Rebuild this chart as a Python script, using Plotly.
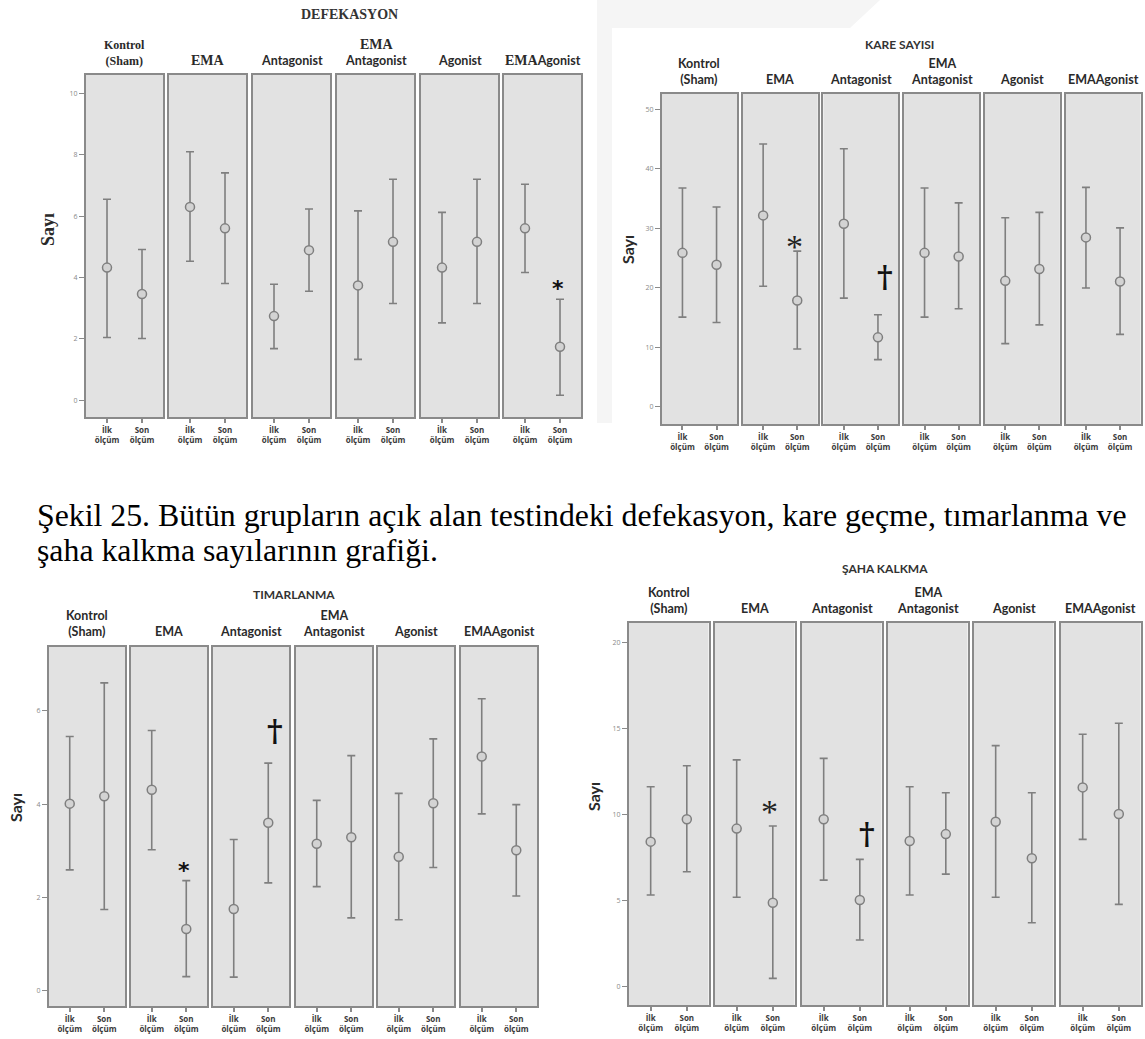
import plotly.graph_objects as go

W, H = 1145, 1039

# ---------------- data ----------------
groups = ["Kontrol<br>(Sham)", "EMA", "Antagonist", "EMA<br>Antagonist", "Agonist", "EMAAgonist"]
olcum = ["İlk<br>ölçüm", "Son<br>ölçüm"]

# DEFEKASYON  (per group: [İlk, Son])
defek_mean  = [[4.32, 3.46], [6.30, 5.60], [2.74, 4.89], [3.74, 5.16], [4.32, 5.16], [5.60, 1.74]]
defek_upper = [[6.55, 4.91], [8.10, 7.41], [3.78, 6.23], [6.17, 7.20], [6.12, 7.20], [7.04, 3.29]]
defek_lower = [[2.04, 2.01], [4.53, 3.80], [1.68, 3.55], [1.33, 3.15], [2.52, 3.15], [4.16, 0.16]]

# KARE SAYISI
kare_mean  = [[25.9, 23.9], [32.2, 17.9], [30.8, 11.7], [25.9, 25.3], [21.2, 23.2], [28.5, 21.1]]
kare_upper = [[36.8, 33.6], [44.2, 26.2], [43.4, 15.5], [36.8, 34.3], [31.8, 32.7], [36.9, 30.1]]
kare_lower = [[15.1, 14.2], [20.3, 9.75], [18.3, 7.96], [15.1, 16.5], [10.65, 13.8], [20.0, 12.2]]

# TIMARLANMA
timar_mean  = [[4.01, 4.17], [4.31, 1.32], [1.75, 3.60], [3.15, 3.29], [2.87, 4.02], [5.02, 3.01]]
timar_upper = [[5.45, 6.60], [5.58, 2.36], [3.24, 4.88], [4.08, 5.04], [4.23, 5.40], [6.26, 3.99]]
timar_lower = [[2.59, 1.74], [3.02, 0.30], [0.29, 2.31], [2.23, 1.56], [1.52, 2.64], [3.79, 2.03]]

# ŞAHA KALKMA
saha_mean  = [[8.41, 9.71], [9.17, 4.85], [9.71, 5.01], [8.45, 8.85], [9.57, 7.44], [11.57, 10.02]]
saha_upper = [[11.61, 12.83], [13.17, 9.32], [13.26, 7.38], [11.61, 11.26], [14.00, 11.26], [14.66, 15.30]]
saha_lower = [[5.30, 6.66], [5.17, 0.45], [6.17, 2.68], [5.30, 6.52], [5.17, 3.69], [8.54, 4.76]]

titles = ["DEFEKASYON", "KARE SAYISI", "TIMARLANMA", "ŞAHA KALKMA"]
yticks = [[0, 2, 4, 6, 8, 10], [0, 10, 20, 30, 40, 50], [0, 2, 4, 6], [0, 5, 10, 15, 20]]
ytitle = "Sayı"
caption_lines = ["Şekil 25. Bütün grupların açık alan testindeki defekasyon, kare geçme, tımarlanma ve",
                 "şaha kalkma sayılarının grafiği."]
# significance marks: (group index, measurement index, y value, symbol)
marks = [
    [(5, 1, 3.9, "*")],
    [(1, 1, 28.6, "*"), (2, 1, 22.5, "†")],
    [(1, 1, 2.75, "*"), (2, 1, 5.65, "†")],
    [(1, 1, 10.75, "*"), (2, 1, 9.05, "†")],
]

data = [(defek_mean, defek_upper, defek_lower),
        (kare_mean, kare_upper, kare_lower),
        (timar_mean, timar_upper, timar_lower),
        (saha_mean, saha_upper, saha_lower)]

# ---------------- layout geometry (pixels) ----------------
SERIF = "Liberation Serif"
SANS = "Lato"
panels = [
    dict(lefts=[86, 169, 253, 337, 421, 504], width=77, top=75, bottom=417, yrange=[-0.55, 10.6],
         title_xy=(349, 15), title_font=SERIF, ylab_xy=(48, 230), ylab_font=SERIF, lab_bottom=70, serif=True),
    dict(lefts=[662, 742.7, 823.4, 904.1, 984.8, 1065.5], width=75, top=94, bottom=424, yrange=[-2.86, 52.6],
         title_xy=(900, 45), title_font=SANS, ylab_xy=(627, 250), ylab_font=SANS, lab_bottom=89, serif=False),
    dict(lefts=[49, 131, 213, 296, 378, 461], width=76, top=647, bottom=1006, yrange=[-0.33, 7.37],
         title_xy=(294, 594), title_font=SANS, ylab_xy=(15, 808), ylab_font=SANS, lab_bottom=641, serif=False),
    dict(lefts=[629, 715, 802, 888, 974, 1061], width=79.5, top=623, bottom=1005, yrange=[-1.1, 21.14],
         title_xy=(885, 568), title_font=SANS, ylab_xy=(593, 797), ylab_font=SANS, lab_bottom=618, serif=False),
]

GRAY = "#7f7f7f"
BORDER = "#8a8a8a"

fig = go.Figure()
layout = dict(width=W, height=H, margin=dict(l=0, r=0, t=0, b=0, pad=0),
              paper_bgcolor="white", plot_bgcolor="#e2e2e2", showlegend=False)
annotations = []
shapes = []


def px2x(px):
    return px / W


def px2y(py):
    return 1 - py / H


# faint watermark remnants around second panel
shapes.append(dict(type="path", xref="paper", yref="paper", layer="below",
                   path=(f"M {px2x(597)},{px2y(0)} L {px2x(880)},{px2y(0)} L {px2x(850)},{px2y(28)} "
                         f"L {px2x(612)},{px2y(28)} L {px2x(612)},{px2y(423)} L {px2x(597)},{px2y(423)} Z"),
                   fillcolor="#f5f5f5", line=dict(width=0)))

n = 0
for p, pan in enumerate(panels):
    means, ups, lows = data[p]
    for i in range(6):
        n += 1
        xa = "x" if n == 1 else f"x{n}"
        ya = "y" if n == 1 else f"y{n}"
        xkey = "xaxis" if n == 1 else f"xaxis{n}"
        ykey = "yaxis" if n == 1 else f"yaxis{n}"
        m = means[i]
        u = ups[i]
        lo = lows[i]
        fig.add_trace(go.Scatter(
            x=olcum, y=m, mode="markers", xaxis=xa, yaxis=ya, hoverinfo="skip",
            marker=dict(symbol="circle", size=9, color="#d3d3d3", line=dict(color=GRAY, width=1.5)),
            error_y=dict(type="data", symmetric=False,
                         array=[u[k] - m[k] for k in range(2)],
                         arrayminus=[m[k] - lo[k] for k in range(2)],
                         color=GRAY, thickness=1.6, width=4),
        ))
        l = pan["lefts"][i]
        layout[xkey] = dict(domain=[px2x(l), px2x(l + pan["width"])], anchor=ya, type="category",
                            categoryorder="array", categoryarray=olcum, range=[-0.6, 1.6],
                            showline=True, mirror=True, linecolor=BORDER, linewidth=2,
                            ticks="outside", ticklen=4, tickwidth=1.5, tickcolor=BORDER,
                            tickfont=dict(size=8, family="Open Sans", color="#3a3a3a", weight="bold"),
                            showgrid=False, zeroline=False, fixedrange=True)
        layout[ykey] = dict(domain=[px2y(pan["bottom"]), px2y(pan["top"])], anchor=xa,
                            range=pan["yrange"], tickvals=yticks[p],
                            showline=True, mirror=True, linecolor=BORDER, linewidth=2,
                            ticks="outside" if i == 0 else "", ticklen=5, tickcolor=BORDER,
                            showticklabels=(i == 0),
                            tickfont=dict(size=7, family="Open Sans", color="#8a8a8a"),
                            showgrid=False, zeroline=False, fixedrange=True)
        # group label
        cx = px2x(l + pan["width"] / 2)
        g = groups[i]
        if pan["serif"]:
            if g == "Kontrol<br>(Sham)":
                txt, fam, size = g, SERIF, 12
            elif g == "EMA":
                txt, fam, size = g, SERIF, 14
            elif g == "EMA<br>Antagonist":
                txt, fam, size = f"<span style='font-family:{SERIF};font-size:14px'>EMA</span><br>Antagonist", SANS, 12.5
            elif g == "EMAAgonist":
                txt, fam, size = f"<span style='font-family:{SERIF};font-size:14px'>EMA</span>Agonist", SANS, 12.5
            else:
                txt, fam, size = g, SANS, 12.5
        else:
            txt, fam, size = g, SANS, 12.5
        annotations.append(dict(text=f"<b>{txt}</b>", x=cx, y=px2y(pan["lab_bottom"]), xref="paper", yref="paper",
                                xanchor="center", yanchor="bottom", showarrow=False,
                                font=dict(family=fam, size=size, color="#2a2a2a"), align="center"))
    # panel title
    tx, ty = pan["title_xy"]
    annotations.append(dict(text=f"<b>{titles[p]}</b>", x=px2x(tx), y=px2y(ty), xref="paper", yref="paper",
                            xanchor="center", yanchor="middle", showarrow=False,
                            font=dict(family=pan["title_font"], size=14 if p == 0 else 12, color="#333")))
    # y label
    lx, ly = pan["ylab_xy"]
    annotations.append(dict(text=f"<b>{ytitle}</b>", x=px2x(lx), y=px2y(ly), xref="paper", yref="paper",
                            xanchor="center", yanchor="middle", showarrow=False, textangle=-90,
                            font=dict(family=pan["ylab_font"], size=18 if p == 0 else 16, color="#2a2a2a")))
    # significance marks
    for (gi, mi, yv, sym) in marks[p]:
        idx = p * 6 + gi + 1
        if sym == "*":
            if p in (0, 2):
                font = dict(family="DejaVu Sans", size=22, color="#111")
                txt = "<b>*</b>"
                ys, xs = -8, -2
            else:
                font = dict(family=SERIF, size=34, color="#222")
                txt = "*"
                ys, xs = -10, -3
        else:
            font = dict(family="DejaVu Serif", size=30, color="#111")
            txt = "<b>†</b>"
            ys, xs = -3, 7
        annotations.append(dict(text=txt, x=olcum[mi], y=yv, xref=f"x{idx}" if idx > 1 else "x",
                                yref=f"y{idx}" if idx > 1 else "y", xanchor="center", yanchor="middle",
                                yshift=ys, xshift=xs, showarrow=False, font=font))

# caption (two lines)
for k, (line, cy) in enumerate(zip(caption_lines, [515, 550])):
    annotations.append(dict(text=line, x=px2x(35), y=px2y(cy), xref="paper", yref="paper",
                            xanchor="left", yanchor="middle", align="left", showarrow=False,
                            font=dict(family=SERIF, size=31.8, color="#000")))

layout["annotations"] = annotations
layout["shapes"] = shapes
fig.update_layout(**layout)
fig.write_html("out.html", config={"displayModeBar": False},
               post_script="document.body.style.margin='0';document.body.style.overflow='hidden';")
